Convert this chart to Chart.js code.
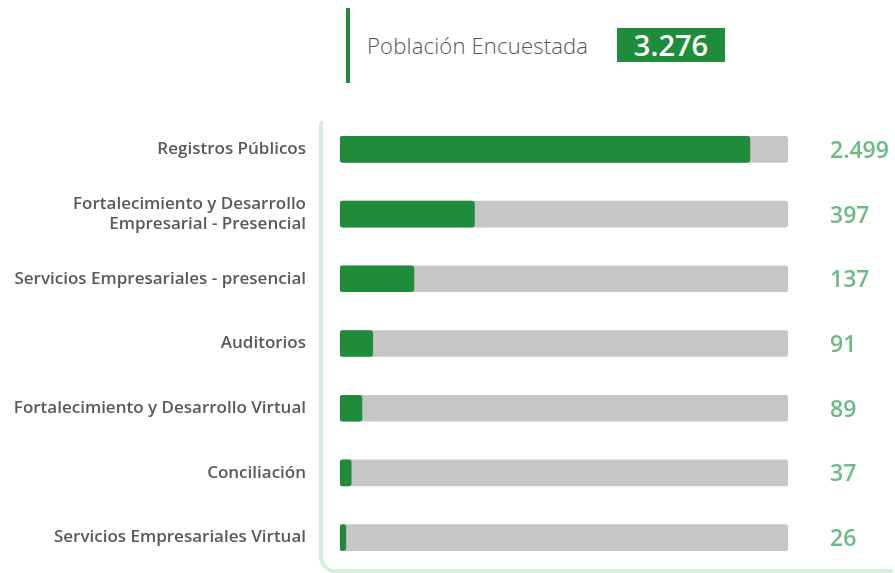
<!DOCTYPE html>
<html>
<head>
<meta charset="utf-8">
<script src="https://cdn.jsdelivr.net/npm/chart.js@4.4.1/dist/chart.umd.min.js"></script>
<style>
  body { margin: 0; background: #fff; font-family: "Open Sans", sans-serif; }
  #wrap { position: relative; width: 895px; height: 573px; overflow: hidden; }
  #frame {
    position: absolute; left: 319px; top: 121px; width: 570px; height: 448px;
    border-left: 4px solid #d6eedc; border-bottom: 4px solid #d6eedc;
    border-bottom-left-radius: 16px; border-top-left-radius: 4px;
  }
  #vline { position: absolute; left: 346px; top: 8px; width: 4px; height: 75px; background: #1e8c3a; }
  #title { position: absolute; left: 367px; top: 30px; font-size: 22px; font-weight: 300; color: #555; letter-spacing: 0.2px; }
  #total {
    position: absolute; left: 617px; top: 28px; width: 108px; height: 34px; background: #1e8c3a;
    color: #fff; font-size: 29px; font-weight: 600; text-align: center; line-height: 34px;
  }
  canvas { position: absolute; left: 0; top: 0; }
</style>
</head>
<body>
<div id="wrap">
  <div id="frame"></div>
  <div id="vline"></div>
  <div id="title">Población Encuestada</div>
  <div id="total">3.276</div>
  <canvas id="bars" width="895" height="573"></canvas>
</div>
<script>
const categories = [
    'Registros Públicos',
    ['Fortalecimiento y Desarrollo', 'Empresarial - Presencial'],
    'Servicios Empresariales - presencial',
    'Auditorios',
    'Fortalecimiento y Desarrollo Virtual',
    'Conciliación',
    'Servicios Empresariales Virtual'
]
// respondents per service (shown on the right)
const respondents = [2499, 397, 137, 91, 89, 37, 26]
// filled share of each grey track, as drawn in the picture (%)
const fillPercent = [91.5, 30, 16.5, 7.3, 4.9, 2.5, 1.3]
const trackPercent = [100, 100, 100, 100, 100, 100, 100]

const valueLabels = {
    id: 'valueLabels',
    afterDatasetsDraw(chart) {
        const ctx = chart.ctx
        const meta = chart.getDatasetMeta(1)
        ctx.save()
        ctx.fillStyle = '#6dbb84'
        ctx.font = '600 23px "Open Sans"'
        ctx.textBaseline = 'middle'
        ctx.textAlign = 'left'
        meta.data.forEach((bar, i) => {
            const txt = respondents[i].toLocaleString('de-DE')
            ctx.fillText(txt, bar.x + 42, bar.y + 2)
        })
        ctx.restore()
    }
}

const context = document.getElementById('bars').getContext('2d')

const chartBars = new Chart(context, {
    type: 'bar',
    data: {
        labels: categories,
        datasets: [{
            data: fillPercent,
            backgroundColor: '#1e8c3a',
            borderRadius: 3,
            borderSkipped: false,
            barThickness: 26,
            grouped: false
        }, {
            data: trackPercent,
            backgroundColor: '#c6c6c6',
            borderRadius: 3,
            borderSkipped: false,
            barThickness: 26,
            grouped: false
        }]
    },
    options: {
        indexAxis: 'y',
        responsive: false,
        animation: false,
        layout: {
            padding: { top: 117, bottom: 3, right: 107 }
        },
        scales: {
            x: { display: false, min: 0, max: 100 },
            y: {
                grid: { display: false, drawTicks: false },
                border: { display: false },
                afterFit(scale) {
                    scale.width = 340
                    scale.paddingTop = 0
                    scale.paddingBottom = 0
                },
                ticks: {
                    padding: 34,
                    color: '#595959',
                    font: { family: '"Open Sans"', size: 17, weight: '600', lineHeight: 1.2 }
                }
            }
        },
        plugins: {
            legend: { display: false },
            tooltip: { enabled: false }
        }
    },
    plugins: [valueLabels]
})
</script>
</body>
</html>
